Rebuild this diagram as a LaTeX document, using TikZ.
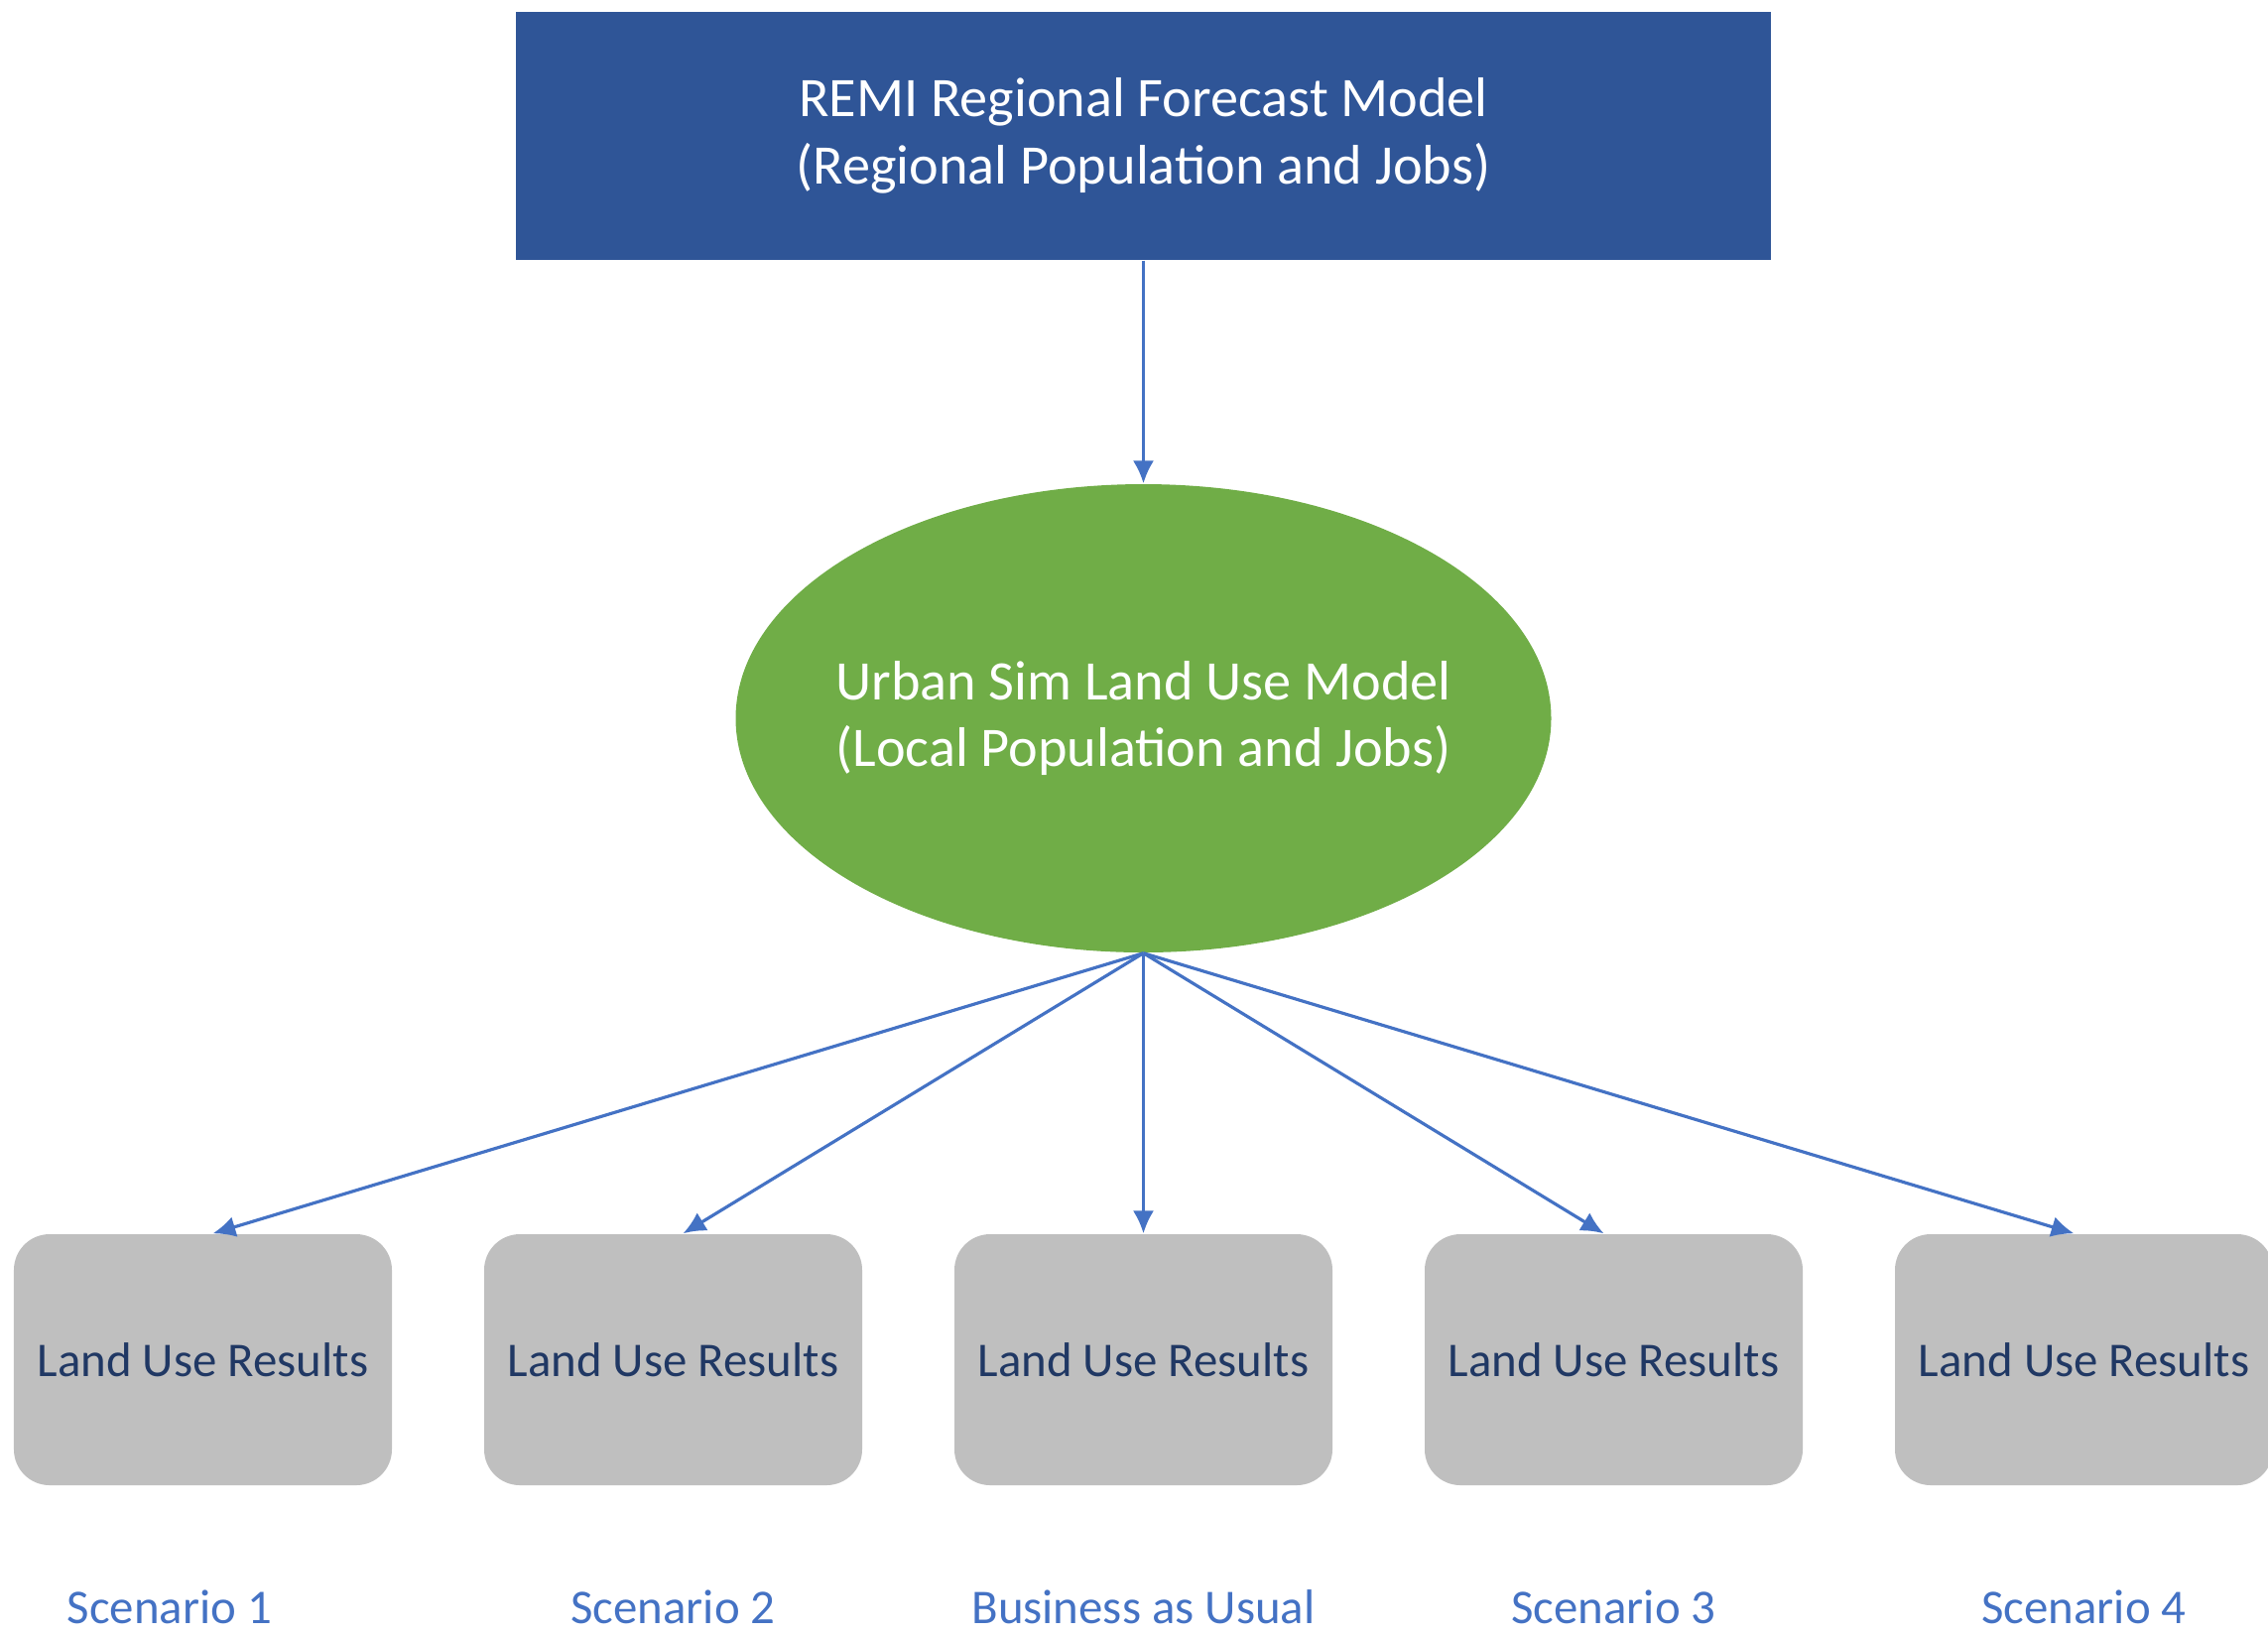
\documentclass[tikz,border=0pt]{standalone}
\usepackage{fontspec}
\setmainfont{Carlito}
\usetikzlibrary{shapes.geometric,arrows.meta}
\definecolor{remiblue}{HTML}{2F5597}
\definecolor{simgreen}{HTML}{70AD47}
\definecolor{resgray}{HTML}{BFBFBF}
\definecolor{linkblue}{HTML}{4472C4}
\definecolor{textnavy}{HTML}{203864}
\begin{document}
\begin{tikzpicture}[>={Latex[length=6.5pt,width=6pt]},
    resbox/.style={fill=resgray, rounded corners=0.36cm, minimum width=3.81cm, minimum height=2.53cm, text=textnavy, font=\fontsize{13.9}{17}\selectfont},
    scenlabel/.style={text=linkblue, font=\fontsize{13.9}{17}\selectfont},
    link/.style={->, linkblue, line width=0.9pt}]
        % 定义参数
        \pgfmathsetmacro{\cx}{11.525} % 中轴 x 坐标
        \pgfmathsetmacro{\gap}{4.74} % 结果框间距
        \pgfmathsetmacro{\ry}{-13.705} % 结果框 y 坐标
        \pgfmathsetmacro{\ly}{-16.2} % 情景标签 y 坐标

        \useasboundingbox (0,0) rectangle (22.86,-16.47);

        % 区域预测模型
        \node[fill=remiblue, text=white, minimum width=12.65cm, minimum height=2.5cm, align=center, font=\fontsize{16}{19.3}\selectfont] (remi) at (\cx, -1.37) {REMI Regional Forecast Model\\(Regional Population and Jobs)};

        % 土地利用模型
        \node[ellipse, fill=simgreen, text=white, inner xsep=-0.3cm, inner ysep=0pt, minimum width=8.22cm, minimum height=4.72cm, align=center, font=\fontsize{16}{19.3}\selectfont] (urban) at (\cx, -7.24) {Urban Sim Land Use Model\\(Local Population and Jobs)};

        % 结果框
        \node[resbox] (res1) at (\cx - 2*\gap, \ry) {Land Use Results};
        \node[resbox] (res2) at (\cx - \gap, \ry) {Land Use Results};
        \node[resbox] (resbau) at (\cx, \ry) {Land Use Results};
        \node[resbox] (res3) at (\cx + \gap, \ry) {Land Use Results};
        \node[resbox] (res4) at (\cx + 2*\gap, \ry) {Land Use Results};

        % 情景标签
        \node[scenlabel] (scen1) at (1.71, \ly) {Scenario 1};
        \node[scenlabel] (scen2) at (\cx - \gap, \ly) {Scenario 2};
        \node[scenlabel] (scenbau) at (\cx, \ly) {Business as Usual};
        \node[scenlabel] (scen3) at (\cx + \gap, \ly) {Scenario 3};
        \node[scenlabel] (scen4) at (\cx + 2*\gap, \ly) {Scenario 4};

        % 绘制箭头
        \draw[link] (remi.south) -- (urban.north);
        \draw[link] (urban.south) -- ([xshift=0.1cm]res1.north);
        \draw[link] (urban.south) -- ([xshift=0.1cm]res2.north);
        \draw[link] (urban.south) -- (resbau.north);
        \draw[link] (urban.south) -- ([xshift=-0.1cm]res3.north);
        \draw[link] (urban.south) -- ([xshift=-0.1cm]res4.north);
\end{tikzpicture}
\end{document}
